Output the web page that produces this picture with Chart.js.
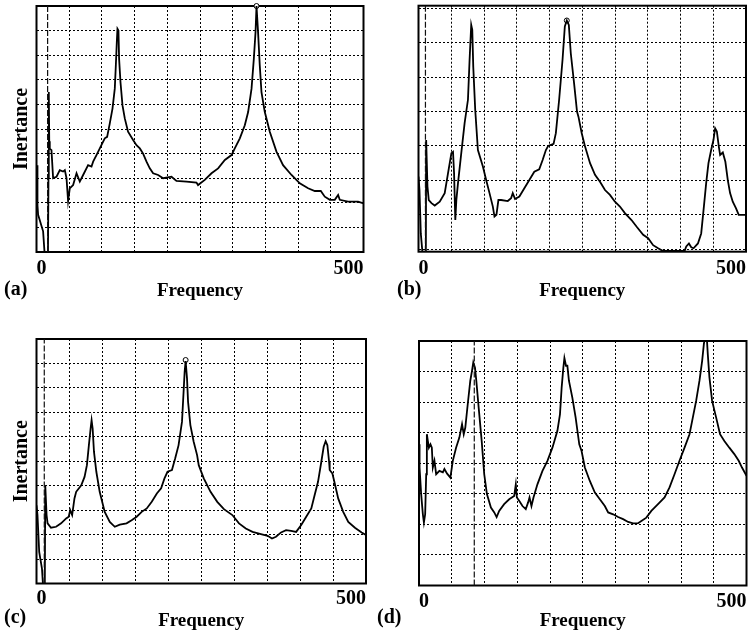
<!DOCTYPE html>
<html>
<head>
<meta charset="utf-8">
<script src="https://cdn.jsdelivr.net/npm/chart.js@4.4.1/dist/chart.umd.min.js"></script>
<style>
  body { margin: 0; background: #fff; }
  #page { position: relative; width: 751px; height: 637px; overflow: hidden; background: #fff; }
  .panel { position: absolute; width: 375px; }
  .tag { position: absolute; font: bold 20px "Liberation Serif", "Times New Roman", serif; line-height: 20px; color: #000; }
</style>
</head>
<body>
<div id="page">
  <div class="panel" style="left:0;top:0;height:310px"><canvas id="chartA"></canvas></div>
  <div class="panel" style="left:376px;top:0;height:310px"><canvas id="chartB"></canvas></div>
  <div class="panel" style="left:0;top:320px;height:317px"><canvas id="chartC"></canvas></div>
  <div class="panel" style="left:376px;top:320px;height:317px"><canvas id="chartD"></canvas></div>
  <div class="tag" style="left:4px;top:278px">(a)</div>
  <div class="tag" style="left:397px;top:278px">(b)</div>
  <div class="tag" style="left:4px;top:606px">(c)</div>
  <div class="tag" style="left:377px;top:606px">(d)</div>
</div>
<script>
// ticks shared by all four panels
const xTicks = [0, 50, 100, 150, 200, 250, 300, 350, 400, 450, 500];
const xLabels = [0, 500];
const yTicks10 = [0, 1, 2, 3, 4, 5, 6, 7, 8, 9, 10];
const yTicks8 = [0, 1, 2, 3, 4, 5, 6, 7, 8];
const yTicks7 = [0, 1, 2, 3, 4, 5, 6, 7];

// (a) [frequency, inertance]
const curveA = [
  [0.9,3.53],[1.5,1.9],[2.5,1.51],[10.1,0.84],[13,-0.3],[17.5,-0.3],[18.3,3],[18.8,6.5],[19.5,4.5],[20.3,4.2],
  [22.9,4.14],[25.4,3.0],[30.6,3.06],[35.6,3.33],[40.7,3.27],[43.3,3.33],[45.9,3.0],[48.3,2.08],[50.9,2.59],[56,2.72],
  [61.2,3.2],[66.2,2.86],[71.3,3.13],[78.9,3.53],[84.1,3.47],[86.6,3.67],[91.7,3.94],[96.8,4.21],[104.4,4.62],[108,4.68],
  [112,5.22],[116.2,5.83],[119.7,6.64],[121.3,7.58],[122.8,8.53],[123.8,9.07],[125.3,9.0],[126.3,7.85],[128.4,6.91],[131.5,5.96],
  [135,5.43],[140,4.89],[147.7,4.55],[152.9,4.34],[158,4.21],[163,4.0],[168.2,3.67],[173.2,3.4],[178.3,3.2],[186,3.13],
  [193.6,3.0],[206.4,3.06],[214,2.89],[229.4,2.86],[244.6,2.82],[247,2.72],[257.3,2.93],[267.6,3.2],[277.7,3.4],[288,3.74],
  [298.2,3.94],[303.2,4.21],[310.9,4.62],[318.5,5.15],[323.6,5.69],[328.8,6.64],[332.3,7.85],[334.9,8.93],[336.4,10],[338.8,8.93],
  [341.4,7.58],[344,6.5],[349,5.7],[356.7,4.89],[366.9,4.08],[377,3.53],[389.9,3.13],[402.6,2.79],[415.3,2.59],[425.5,2.48],
  [434.7,2.48],[440.8,2.25],[448.5,2.12],[456.1,2.12],[461.2,2.32],[463.7,2.12],[476.4,2.05],[491.7,2.05],[500,1.98]
];
const peakA = [336.4, 10];
const cursorA = 17;

// (b)
const curveB = [
  [0,2.11],[1.5,1.72],[3.5,0.46],[7,-0.3],[11.2,-0.3],[11.7,3.17],[13.7,1.82],[15.7,1.43],[19.8,1.34],[24.8,1.27],
  [32.4,1.38],[40,1.63],[45.1,2.21],[50.2,2.79],[52.7,2.83],[54.3,2.21],[56.2,0.85],[57.8,1.43],[60.3,1.92],[65.3,2.79],
  [70.4,3.66],[75.5,4.34],[78,5.5],[80.5,6.51],[82.1,6.37],[83.6,5.3],[86.6,4.05],[90.7,2.88],[98.3,2.4],[103.3,2.01],
  [108.4,1.63],[113.5,1.24],[116,0.95],[119,1.0],[122,1.43],[126.1,1.43],[136.3,1.4],[141.3,1.48],[143.9,1.63],[147.4,1.46],
  [154,1.53],[161.6,1.77],[169.2,2.01],[176.8,2.25],[184.3,2.32],[189.5,2.59],[194.5,2.88],[198,3.0],[206.2,3.06],[209.7,3.37],
  [214.7,4.34],[219.9,5.5],[223.4,6.47],[226.4,6.64],[229.5,6.51],[232.5,5.69],[237.5,4.82],[242,4.0],[244.2,3.85],[249.2,3.37],
  [254.3,2.98],[261.9,2.5],[269.5,2.16],[277.1,1.96],[284.7,1.72],[292.3,1.58],[299.9,1.38],[307.5,1.24],[315.1,1.05],[325.2,0.85],
  [332.8,0.66],[343,0.42],[350.6,0.32],[358.2,0.12],[365.8,0.03],[373.4,-0.05],[406.2,-0.05],[408.8,0.08],[412.9,0.17],[416.4,0.06],
  [419.9,0.03],[426.6,0.17],[431.6,0.46],[435.7,1.24],[439.2,1.92],[442.7,2.5],[446.8,2.88],[450.3,3.17],[452.9,3.51],[455.5,3.42],
  [458.5,2.98],[460.5,2.74],[464.6,2.81],[468.5,2.54],[472.2,2.01],[475.7,1.63],[479.8,1.38],[484.8,1.19],[488.9,1.0],[500,1.0]
];
const peakB = [226.4, 6.64];
const cursorB = 10.6;

// (c)
const curveC = [
  [0,3.2],[1.5,2.8],[4.1,1.29],[8.3,0.61],[10.2,-0.2],[12.6,-0.2],[13.3,4.02],[15.3,2.8],[16.8,2.46],[22,2.28],
  [29.7,2.32],[37.3,2.46],[45,2.66],[48.9,2.73],[51.1,3.0],[54.1,2.8],[57.6,3.48],[60.2,3.75],[67.9,4.02],[72.9,4.36],
  [76.5,4.84],[79.5,5.66],[82.1,6.34],[83.6,6.68],[85.2,6.34],[87.2,5.39],[90.8,4.57],[95.9,3.75],[103.5,2.93],[111.2,2.52],
  [118.8,2.32],[126.4,2.41],[136.7,2.46],[144.3,2.59],[152,2.73],[159.6,2.93],[167.3,3.07],[174.9,3.34],[182.6,3.68],[189.1,3.89],
  [194.2,4.3],[198.8,4.57],[205.5,4.64],[210.5,5.12],[215.6,5.66],[220.8,6.62],[223.2,7.84],[224.8,8.66],[226.3,9.1],[228.4,8.39],
  [230,7.43],[233.5,6.48],[238.5,5.8],[243.7,5.25],[246.2,4.84],[253.8,4.3],[264.1,3.75],[274.3,3.34],[284.4,3.04],[297.2,2.8],
  [307.3,2.46],[317.6,2.25],[327.8,2.11],[340.5,2.02],[350.8,1.95],[357.3,1.84],[363.4,1.91],[371.1,2.09],[378.7,2.18],[386.4,2.15],
  [394,2.11],[401.7,2.39],[409.3,2.73],[417,3.07],[422,3.61],[427.2,4.16],[432.2,4.98],[435.8,5.59],[438.8,5.82],[441.4,5.66],
  [444,4.98],[444.9,4.64],[449,4.5],[452.6,4.09],[457.8,3.48],[465.4,2.93],[473.1,2.52],[483.2,2.28],[493.4,2.09],[500,1.98]
];
const peakC = [226.3, 9.14];
const cursorC = 11.8;

// (d)
const curveD = [
  [0,4.62],[0.3,4.51],[1.4,3.86],[3.3,2.99],[5.9,2.33],[7.5,2.06],[9.4,2.33],[11,3.64],[12,4.95],[13.5,4.73],
  [15.1,4.51],[17.5,4.62],[19.6,4.51],[21.1,3.86],[23.6,4.08],[26.2,3.64],[31.2,3.75],[36.4,3.7],[38.8,3.81],[42.9,3.66],
  [47.9,3.53],[51.6,4.08],[56.6,4.51],[61.6,4.84],[65.7,5.28],[68.3,4.95],[70.7,5.17],[74.4,5.93],[78.3,6.7],[80.9,7.02],
  [82.9,7.3],[85.5,7.13],[87.5,6.7],[91.1,5.82],[95.7,4.73],[99.6,3.64],[103.7,2.99],[109.8,2.55],[114.9,2.39],[118.5,2.24],
  [122.4,2.44],[130,2.66],[137.7,2.82],[145.3,2.93],[147.8,3.31],[149.4,2.88],[152.9,2.77],[158,2.6],[163,2.5],[166.6,2.72],
  [168.7,2.88],[171.7,2.6],[174.8,2.88],[180.8,3.31],[188.5,3.75],[196.1,4.08],[203.7,4.51],[211.3,5.06],[215.2,5.6],[217.8,6.48],
  [220.4,7.13],[222,7.44],[224.4,7.19],[226.5,7.19],[228.9,6.7],[234.1,6.15],[239.1,5.5],[244.7,4.62],[248.2,4.4],[253.2,3.86],
  [260.8,3.42],[268.5,3.04],[276.1,2.82],[283.7,2.6],[288.8,2.39],[296.4,2.33],[304,2.24],[311.6,2.17],[319.3,2.08],[326.9,2.03],
  [334.5,2.04],[339.5,2.11],[347.1,2.22],[354.7,2.44],[364.9,2.66],[374.9,2.88],[382.5,3.21],[390.1,3.64],[397.7,4.08],[405.4,4.51],
  [413,4.95],[418.1,5.5],[423.1,6.04],[428.2,6.7],[432.3,7.35],[434.9,7.9],[436.4,8.1],[439.4,8.1],[440.9,7.57],[443.4,6.81],
  [447.5,6.04],[453.6,5.5],[459.6,4.95],[466.2,4.73],[473.8,4.51],[481.4,4.3],[488.1,4.08],[493.1,3.86],[500,3.59]
];
const peakD = null;
const cursorD = 84.4;

Chart.defaults.font.family = "'Liberation Serif', 'Times New Roman', serif";
Chart.defaults.color = '#000';

// frame round the plot area, drawn before the curves
const framePlugin = {
  id: 'frame',
  beforeDatasetsDraw(chart) {
    const { ctx, chartArea: a } = chart;
    ctx.save();
    ctx.strokeStyle = '#000';
    ctx.lineWidth = 2;
    ctx.strokeRect(a.left, a.top, a.right - a.left, a.bottom - a.top);
    ctx.restore();
  }
};

function makePanel(id, curve, peak, cursor, cfg) {
  const datasets = [
    {
      data: [{ x: cursor, y: cfg.yMin }, { x: cursor, y: cfg.yMax }],
      borderColor: '#111', borderWidth: 1.2, borderDash: [6, 2], pointRadius: 0
    },
    {
      data: curve.map(p => ({ x: p[0], y: p[1] })),
      borderColor: '#000', borderWidth: 1.8, pointRadius: 0, tension: 0
    }
  ];
  if (peak) {
    datasets.push({
      data: [{ x: peak[0], y: peak[1] }],
      showLine: false, clip: false,
      pointRadius: 2.5, pointBackgroundColor: '#fff', pointBorderColor: '#000', pointBorderWidth: 1
    });
  }

  new Chart(document.getElementById(id), {
    type: 'line',
    data: { datasets: datasets },
    options: {
      responsive: true,
      maintainAspectRatio: false,
      animation: false,
      devicePixelRatio: 1,
      layout: { padding: cfg.pad },
      plugins: { legend: { display: false }, tooltip: { enabled: false } },
      scales: {
        x: {
          type: 'linear', min: 0, max: 500,
          afterBuildTicks: s => { s.ticks = xTicks.map(v => ({ value: v })); },
          afterFit: s => { s.height = cfg.xHeight; },
          ticks: {
            autoSkip: false, maxRotation: 0, align: 'inner', padding: cfg.tickPad,
            font: { size: 20, weight: 'bold' },
            callback: v => xLabels.includes(v) ? String(v) : ''
          },
          grid: { color: '#000', lineWidth: 1, drawTicks: false },
          border: { display: false, dash: [2, 2] },
          title: { display: true, text: 'Frequency', font: { size: 19, weight: 'bold' }, padding: { top: 0, bottom: cfg.titlePad } }
        },
        y: {
          type: 'linear', min: cfg.yMin, max: cfg.yMax,
          afterBuildTicks: s => { s.ticks = cfg.yTicks.map(v => ({ value: v })); },
          afterFit: s => { s.width = cfg.yWidth; },
          ticks: { display: false },
          grid: { color: '#000', lineWidth: 1, drawTicks: false },
          border: { display: false, dash: [2, 2] },
          title: { display: cfg.yTitle, text: 'Inertance', font: { size: 20, weight: 'bold' }, padding: { top: 10, bottom: 0 } }
        }
      }
    },
    plugins: [framePlugin]
  });
}

makePanel('chartA', curveA, peakA, cursorA, {
  yMin: 0, yMax: 10, yTicks: yTicks10, pad: { left: 0, top: 6, right: 11.5, bottom: 0 },
  yWidth: 36.5, xHeight: 58, tickPad: 5, titlePad: 7.3, yTitle: true
});
makePanel('chartB', curveB, peakB, cursorB, {
  yMin: -0.07, yMax: 7.07, yTicks: yTicks7, pad: { left: 0, top: 5.7, right: 3, bottom: 0 },
  yWidth: 42.5, xHeight: 58.3, tickPad: 5, titlePad: 7.3, yTitle: false
});
makePanel('chartC', curveC, peakC, cursorC, {
  yMin: 0, yMax: 10, yTicks: yTicks10, pad: { left: 0, top: 19, right: 9, bottom: 0 },
  yWidth: 36.5, xHeight: 53.5, tickPad: 3.5, titlePad: 4.7, yTitle: true
});
makePanel('chartD', curveD, peakD, cursorD, {
  yMin: 0, yMax: 8, yTicks: yTicks8, pad: { left: 0, top: 21, right: 2.4, bottom: 0 },
  yWidth: 43, xHeight: 51.5, tickPad: 4.5, titlePad: 4.7, yTitle: false
});
</script>
</body>
</html>
